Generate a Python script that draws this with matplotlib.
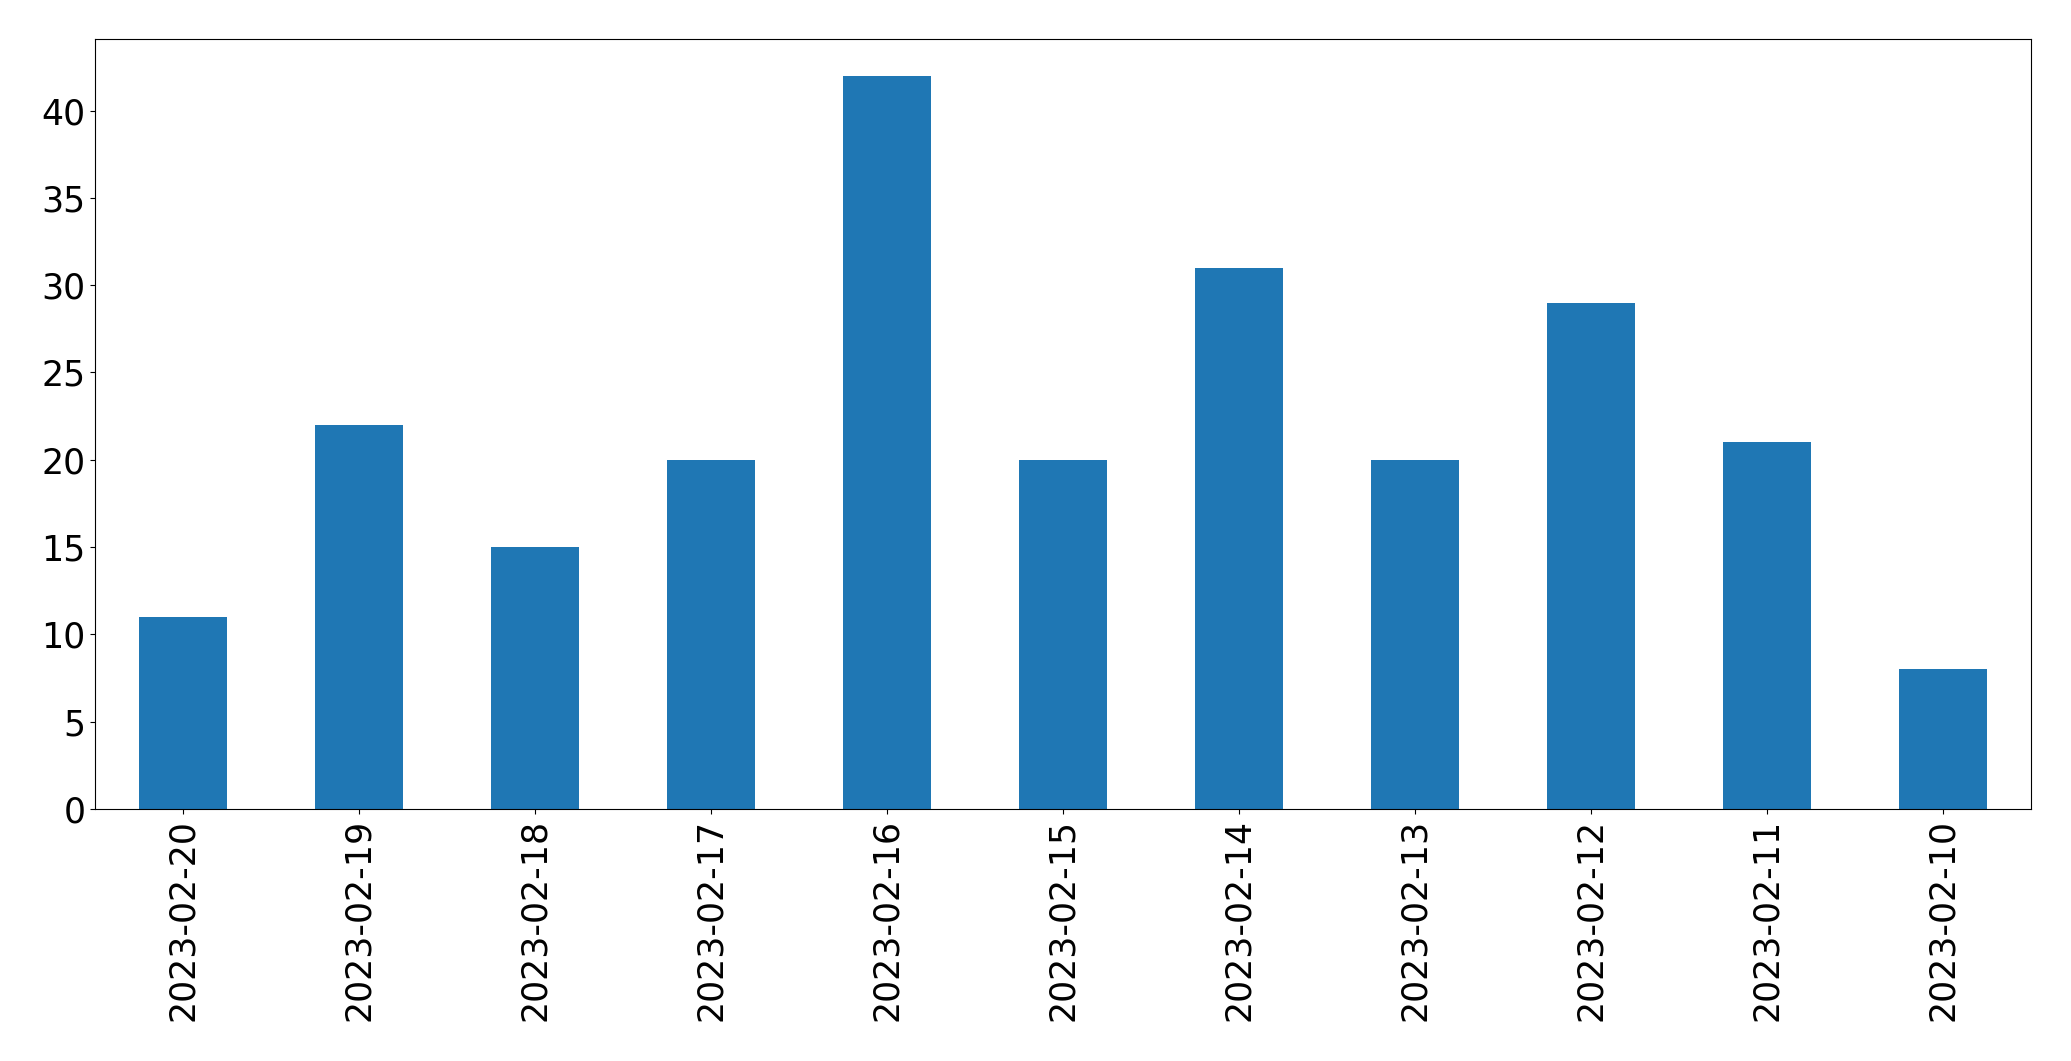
import matplotlib
matplotlib.use("Agg")
import matplotlib.pyplot as plt
import numpy as np

dates = ["2023-02-20", "2023-02-19", "2023-02-18", "2023-02-17", "2023-02-16",
         "2023-02-15", "2023-02-14", "2023-02-13", "2023-02-12", "2023-02-11",
         "2023-02-10"]
counts = [11, 22, 15, 20, 42, 20, 31, 20, 29, 21, 8]

W, H = 2071, 1061
fig = plt.figure(figsize=(W / 100, H / 100), dpi=100)
left, right, top, bottom = 95, 2031, 39, 809
ax = fig.add_axes([left / W, 1 - bottom / H, (right - left) / W, (bottom - top) / H])

x = np.arange(len(dates))
ax.bar(x, counts, width=0.5, color="#1f77b4")
ax.set_xlim(-0.5, len(dates) - 0.5)
ax.set_xticks(x)
ax.set_xticklabels(dates, rotation=90)
ax.tick_params(labelsize=25)

fig.savefig("out.png", dpi=100)
